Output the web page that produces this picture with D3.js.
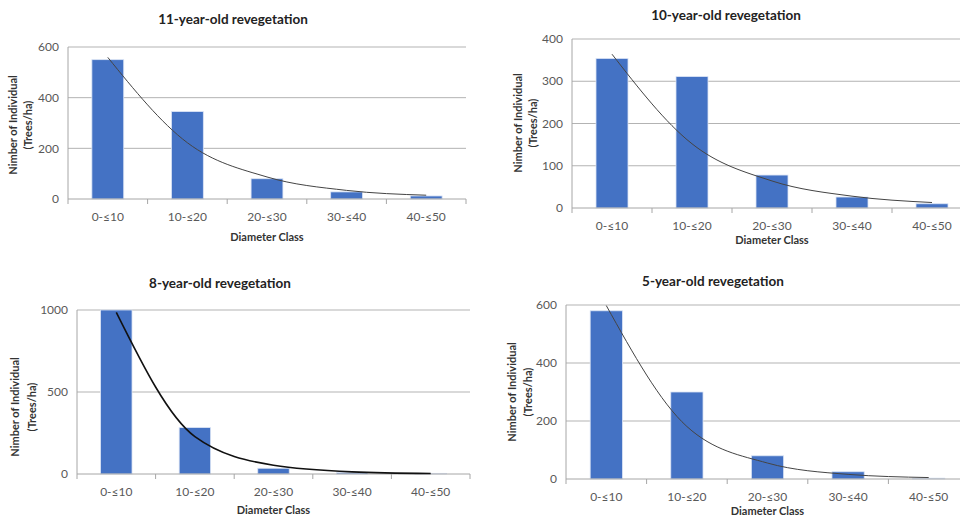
<!DOCTYPE html>
<html><head><meta charset="utf-8">
<script src="https://cdnjs.cloudflare.com/ajax/libs/d3/7.8.5/d3.min.js"></script>
<style>
html,body{margin:0;padding:0;background:#fff;}
svg{display:block;font-family:Lato,"Open Sans",sans-serif;}
</style></head>
<body>
<svg id="chart" width="960" height="518"></svg>
<script>
// ---- data ----
const categories = ["0-≤10", "10-≤20", "20-≤30", "30-≤40", "40-≤50"];
const titles = ["11-year-old revegetation", "10-year-old revegetation", "8-year-old revegetation", "5-year-old revegetation"];
const values11 = [550, 345, 80, 28, 12];
const values10 = [354, 311, 78, 26, 10];
const values8 = [1000, 283, 35, 8, 4];
const values5 = [580, 300, 80, 25, 3];
// trendline readings at each category centre
const trend11 = [559, 222, 87, 34, 15];
const trend10 = [364, 152, 64, 28, 13];
const trend8 = [986, 228, 53, 13, 3];
const trend5 = [598, 181, 55, 16, 5];
const ticks11 = [0, 200, 400, 600];
const ticks10 = [0, 100, 200, 300, 400];
const ticks8 = [0, 500, 1000];
const ticks5 = [0, 200, 400, 600];
const yTitle = ["Nimber of Individual", "(Trees/ha)"];
const xTitle = "Diameter Class";

// ---- layout ----
const panels = [
  {values: values11, trend: trend11, ticks: ticks11, title: titles[0],
   x0: 68, x1: 466, y0: 47, y1: 199, tx: 233, ty: 19, yt: [13, 28], ytc: 125, xt: 237, tw: 1, tc: "#444"},
  {values: values10, trend: trend10, ticks: ticks10, title: titles[1],
   x0: 572, x1: 972, y0: 39, y1: 208, tx: 726, ty: 15, yt: [518, 533], ytc: 123, xt: 240, tw: 1, tc: "#444"},
  {values: values8, trend: trend8, ticks: ticks8, title: titles[2],
   x0: 77, x1: 470, y0: 310, y1: 474, tx: 220, ty: 283, yt: [15, 32], ytc: 407, xt: 510, tw: 1.6, tc: "#111"},
  {values: values5, trend: trend5, ticks: ticks5, title: titles[3],
   x0: 566, x1: 969, y0: 305, y1: 479, tx: 713, ty: 281, yt: [512, 528], ytc: 392, xt: 511, tw: 1, tc: "#444"}
];

const svg = d3.select("#chart");
const barColor = "#4472C4";
const textColor = "#595959";

panels.forEach(p => {
  const g = svg.append("g");
  const x = d3.scaleBand().domain(categories).range([p.x0, p.x1]).paddingInner(0.6).paddingOuter(0.3);
  const xb = d3.scaleBand().domain(categories).range([p.x0, p.x1]);
  const y = d3.scaleLinear().domain([0, d3.max(p.ticks)]).range([p.y1, p.y0]);

  // gridlines
  g.selectAll("line.grid").data(p.ticks.filter(t => t > 0)).join("line")
    .attr("x1", p.x0).attr("x2", p.x1)
    .attr("y1", d => y(d)).attr("y2", d => y(d))
    .attr("stroke", "#b3b3b3").attr("stroke-width", 1);

  // y axis line
  g.append("line").attr("x1", p.x0).attr("x2", p.x0).attr("y1", p.y0).attr("y2", p.y1)
    .attr("stroke", "#a6a6a6").attr("stroke-width", 1);

  // y tick labels
  g.selectAll("text.yl").data(p.ticks).join("text")
    .attr("x", p.x0 - 9).attr("y", d => y(d)).attr("dy", "0.35em")
    .attr("text-anchor", "end").attr("fill", textColor).attr("font-size", 12)
    .text(d => d);

  // bars
  g.selectAll("rect.bar").data(p.values).join("rect")
    .attr("x", (d, i) => xb(categories[i]) + xb.bandwidth() * 0.3)
    .attr("width", xb.bandwidth() * 0.4)
    .attr("y", d => y(d)).attr("height", d => p.y1 - y(d))
    .attr("fill", barColor).attr("stroke", "#dbe4f5").attr("stroke-width", 0.8);

  // x axis line + ticks
  g.append("line").attr("x1", p.x0).attr("x2", p.x1).attr("y1", p.y1).attr("y2", p.y1)
    .attr("stroke", "#a6a6a6").attr("stroke-width", 1);
  const bounds = categories.map(c => xb(c)).concat([p.x1]);
  g.selectAll("line.xt").data(bounds).join("line")
    .attr("x1", d => d).attr("x2", d => d).attr("y1", p.y1).attr("y2", p.y1 + 5)
    .attr("stroke", "#a6a6a6").attr("stroke-width", 1);

  // category labels
  g.selectAll("text.xl").data(categories).join("text")
    .attr("x", d => xb(d) + xb.bandwidth() / 2).attr("y", p.y1 + 18).attr("dy", "0.35em")
    .attr("text-anchor", "middle").attr("fill", textColor).attr("font-size", 12)
    .text(d => d);

  // trendline
  const line = d3.line()
    .x((d, i) => xb(categories[i]) + xb.bandwidth() / 2)
    .y(d => y(d))
    .curve(d3.curveMonotoneX);
  g.append("path").datum(p.trend).attr("d", line)
    .attr("fill", "none").attr("stroke", p.tc).attr("stroke-width", p.tw);

  // title
  g.append("text").attr("x", p.tx).attr("y", p.ty).attr("dy", "0.35em")
    .attr("text-anchor", "middle").attr("font-weight", "bold").attr("font-size", 13.5)
    .attr("fill", "#222").text(p.title);

  // y title
  yTitle.forEach((t, i) => {
    g.append("text")
      .attr("transform", `translate(${p.yt[i]},${p.ytc}) rotate(-90)`)
      .attr("dy", "0.35em").attr("text-anchor", "middle")
      .attr("font-weight", "bold").attr("font-size", 11).attr("fill", "#333")
      .text(t);
  });

  // x title
  g.append("text").attr("x", (p.x0 + p.x1) / 2).attr("y", p.xt).attr("dy", "0.35em")
    .attr("text-anchor", "middle").attr("font-weight", "bold").attr("font-size", 11)
    .attr("fill", "#333").text(xTitle);
});
</script>
</body></html>
